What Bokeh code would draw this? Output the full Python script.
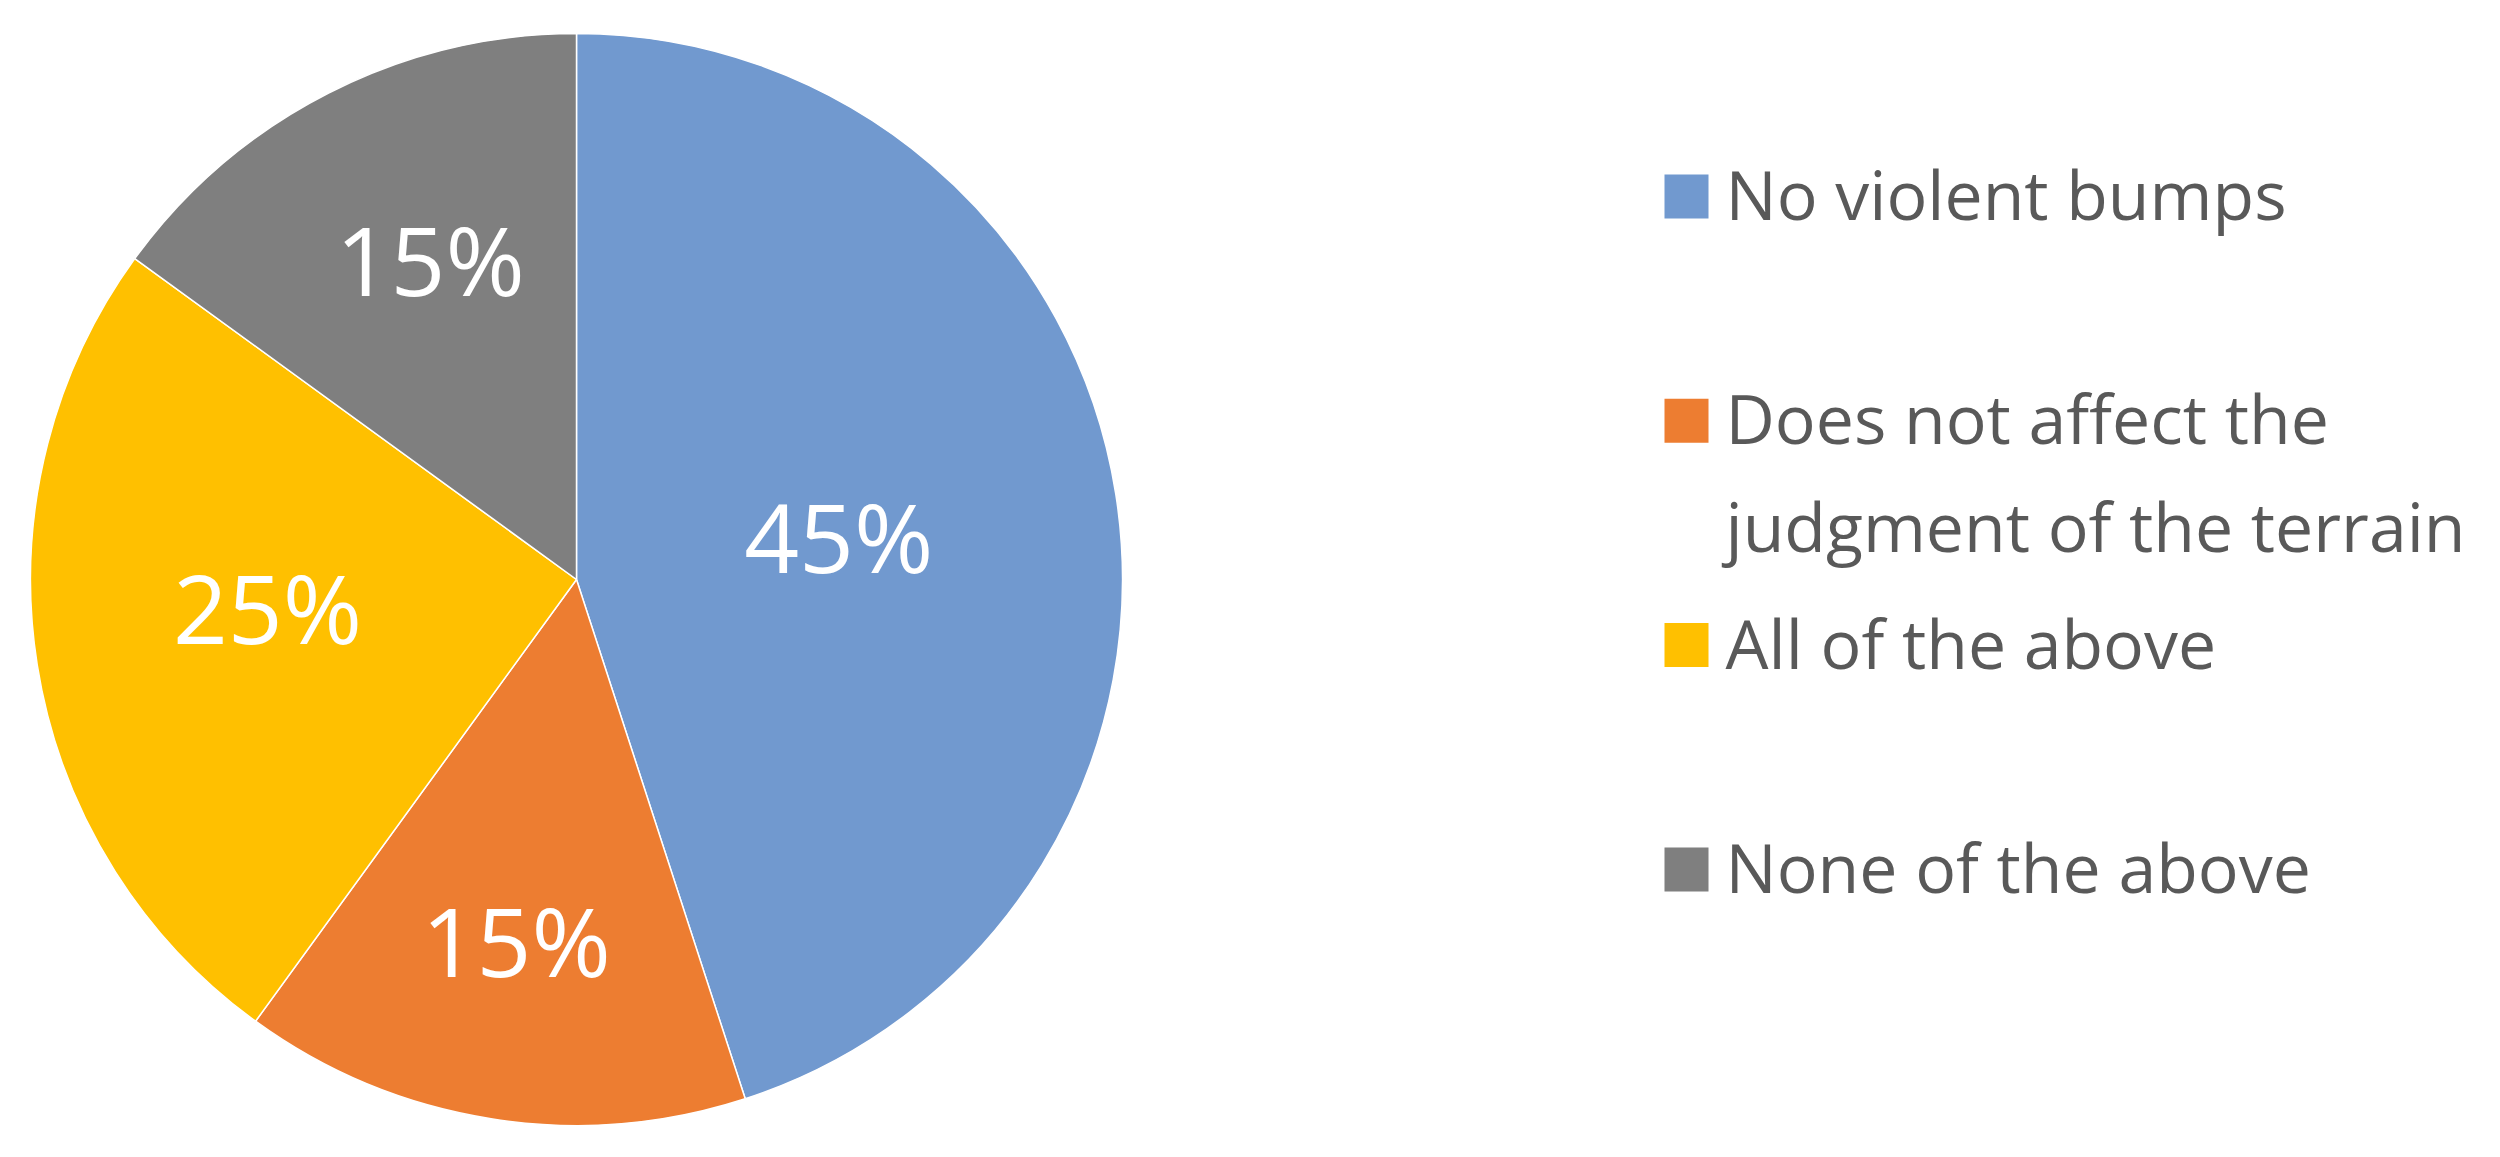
import math
from bokeh.plotting import figure
from bokeh.models import Range1d, ColumnDataSource
from bokeh.core.properties import value
from bokeh.embed import file_html
from bokeh.resources import INLINE

# ---- data ----
categories = ["No violent bumps", "Does not affect the\njudgment of the terrain",
              "All of the above", "None of the above"]
shares = [45, 15, 25, 15]
label_texts = ["45%", "15%", "25%", "15%"]
colors = ["#7199CF", "#ED7D31", "#FFC000", "#7F7F7F"]

# ---- layout / style (page pixel space) ----
W, H = 2484, 1141
def px(X):
    return X
def py(Y):
    return H - Y

CX, CY, R = 576, 579, 546
label_rfrac = [0.487, 0.668, 0.568, 0.646]
label_angle_shift = [-0.5, 0.5, 4.0, 2.5]  # degrees
FONT = "Open Sans"

p = figure(width=W, height=H, output_backend="svg", toolbar_location=None,
           x_range=Range1d(0, W), y_range=Range1d(0, H), min_border=0)
p.axis.visible = False
p.grid.visible = False
p.outline_line_color = None
p.background_fill_color = "white"
p.border_fill_color = "white"

total = float(sum(shares))
starts, ends, mids = [], [], []
cum = 0.0
for s in shares:
    a0 = cum / total
    cum += s
    a1 = cum / total
    starts.append(math.pi / 2 - a0 * 2 * math.pi)
    ends.append(math.pi / 2 - a1 * 2 * math.pi)
    mids.append((a0 + a1) / 2)

src = ColumnDataSource(dict(x=[px(CX)] * len(shares), y=[py(CY)] * len(shares),
                            start=starts, end=ends, color=colors))
p.wedge(x="x", y="y", radius=R, radius_units="screen", start_angle="start",
        end_angle="end", direction="clock", fill_color="color",
        line_color="white", line_width=1.5, source=src)

# percentage labels
lx, ly = [], []
for m, f, sh in zip(mids, label_rfrac, label_angle_shift):
    th = m * 2 * math.pi + math.radians(sh)
    lx.append(px(CX + f * R * math.sin(th)))
    ly.append(py(CY - f * R * math.cos(th)))
p.text(x=lx, y=ly, text=label_texts, text_color="white",
       text_font=value(FONT), text_font_size="96px",
       text_align="center", text_baseline="middle")

# legend
ROW0, ROW_STEP = 196, 224.3
SQ = 44
SQX = 1686
TX = 1725
LINE_GAP = 108
sq_x, sq_y, t_x, t_y, t_txt = [], [], [], [], []
for i, cat in enumerate(categories):
    yc = ROW0 + i * ROW_STEP
    sq_x.append(px(SQX))
    sq_y.append(py(yc))
    for j, line in enumerate(cat.split("\n")):
        t_x.append(px(TX))
        t_y.append(py(yc - 3 + j * LINE_GAP))
        t_txt.append(line)
p.rect(x=sq_x, y=sq_y, width=SQ, height=SQ, width_units="screen",
       height_units="screen", fill_color=colors, line_color=None)
p.text(x=t_x, y=t_y, text=t_txt, text_color="#595959",
       text_font=value(FONT), text_font_size="68px",
       text_align="left", text_baseline="middle")

open("out.html", "w").write(file_html(p, INLINE))
